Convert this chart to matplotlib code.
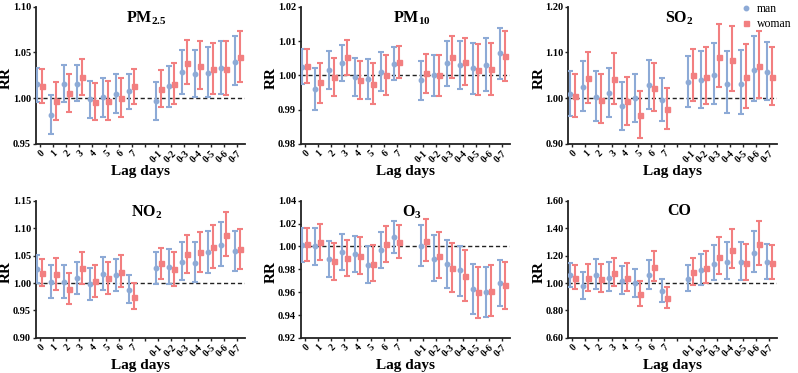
import matplotlib
matplotlib.use("Agg")
import matplotlib.pyplot as plt
import numpy as np

plt.rcParams['font.family'] = ['Liberation Serif', 'DejaVu Serif']
plt.rcParams['mathtext.fontset'] = 'custom'
plt.rcParams['mathtext.rm'] = 'Liberation Serif'
plt.rcParams['mathtext.bf'] = 'Liberation Serif:bold'

lags = ["0", "1", "2", "3", "4", "5", "6", "7",
        "0-1", "0-2", "0-3", "0-4", "0-5", "0-6", "0-7"]
xpos = [0, 1, 2, 3, 4, 5, 6, 7, 9, 10, 11, 12, 13, 14, 15]

# RR, lower, upper for each pollutant
pm25_man = [1.015, 0.982, 1.016, 1.016, 0.999, 1.001, 1.005, 1.008, 0.997, 1.013, 1.029, 1.027, 1.028, 1.033, 1.040]
pm25_man_lo = [0.996, 0.961, 0.996, 0.997, 0.978, 0.980, 0.984, 0.988, 0.976, 0.990, 1.005, 1.001, 1.001, 1.005, 1.014]
pm25_man_hi = [1.033, 1.004, 1.036, 1.036, 1.019, 1.022, 1.027, 1.027, 1.018, 1.035, 1.053, 1.053, 1.056, 1.062, 1.068]
pm25_wom = [1.013, 0.997, 1.006, 1.023, 0.996, 0.997, 1.000, 1.013, 1.010, 1.016, 1.039, 1.035, 1.032, 1.032, 1.045]
pm25_wom_lo = [0.995, 0.976, 0.985, 1.003, 0.976, 0.976, 0.979, 0.994, 0.990, 0.994, 1.015, 1.010, 1.005, 1.004, 1.018]
pm25_wom_hi = [1.032, 1.018, 1.027, 1.043, 1.017, 1.019, 1.022, 1.032, 1.031, 1.038, 1.064, 1.062, 1.060, 1.062, 1.073]

pm10_man = [1.0025, 0.996, 1.0015, 1.0035, 0.9995, 0.999, 1.001, 1.0034, 0.9985, 1.000, 1.0035, 1.003, 1.002, 1.003, 1.0065]
pm10_man_lo = [0.9975, 0.990, 0.996, 0.9983, 0.994, 0.993, 0.9953, 0.9985, 0.9927, 0.994, 0.997, 0.996, 0.9945, 0.9953, 0.999]
pm10_man_hi = [1.0077, 1.002, 1.007, 1.0088, 1.005, 1.0048, 1.0068, 1.0083, 1.0042, 1.006, 1.010, 1.010, 1.0095, 1.0108, 1.0138]
pm10_wom = [1.0027, 0.998, 0.9995, 1.0053, 0.9987, 0.9976, 1.0002, 1.0039, 1.0006, 1.0001, 1.0053, 1.004, 1.0016, 1.0018, 1.0055]
pm10_wom_lo = [0.9977, 0.992, 0.994, 1.0002, 0.9932, 0.9917, 0.9944, 0.9992, 0.995, 0.9941, 0.9992, 0.9972, 0.9942, 0.9942, 0.9983]
pm10_wom_hi = [1.0077, 1.0037, 1.005, 1.0103, 1.0042, 1.0035, 1.006, 1.0085, 1.0062, 1.006, 1.0116, 1.0108, 1.009, 1.0094, 1.0128]

so2_man = [1.009, 1.025, 1.002, 1.011, 0.982, 1.000, 1.028, 0.996, 1.035, 1.040, 1.051, 1.032, 1.032, 1.062, 1.058]
so2_man_lo = [0.962, 0.972, 0.951, 0.959, 0.931, 0.949, 0.976, 0.950, 0.980, 0.979, 0.987, 0.967, 0.966, 0.993, 0.997]
so2_man_hi = [1.059, 1.082, 1.059, 1.067, 1.036, 1.054, 1.084, 1.044, 1.093, 1.104, 1.120, 1.103, 1.105, 1.137, 1.123]
so2_wom = [1.005, 1.044, 0.997, 1.042, 0.993, 0.964, 1.023, 0.976, 1.050, 1.047, 1.091, 1.084, 1.046, 1.071, 1.046]
so2_wom_lo = [0.959, 0.989, 0.945, 0.988, 0.942, 0.914, 0.971, 0.932, 0.995, 0.987, 1.025, 1.016, 0.979, 1.000, 0.985]
so2_wom_hi = [1.054, 1.101, 1.052, 1.099, 1.047, 1.016, 1.078, 1.023, 1.108, 1.111, 1.162, 1.157, 1.118, 1.146, 1.111]

no2_man = [1.025, 1.002, 1.001, 1.009, 0.999, 1.017, 1.014, 0.988, 1.027, 1.030, 1.039, 1.037, 1.056, 1.070, 1.058]
no2_man_lo = [1.000, 0.973, 0.973, 0.980, 0.970, 0.988, 0.985, 0.963, 0.999, 0.998, 1.005, 1.002, 1.018, 1.031, 1.022]
no2_man_hi = [1.051, 1.032, 1.032, 1.039, 1.028, 1.048, 1.044, 1.014, 1.057, 1.062, 1.074, 1.075, 1.095, 1.112, 1.095]
no2_wom = [1.018, 1.016, 0.989, 1.027, 1.003, 1.009, 1.021, 0.975, 1.036, 1.025, 1.052, 1.056, 1.066, 1.088, 1.062]
no2_wom_lo = [0.994, 0.988, 0.961, 0.999, 0.975, 0.980, 0.992, 0.952, 1.008, 0.994, 1.018, 1.020, 1.028, 1.049, 1.026]
no2_wom_hi = [1.044, 1.046, 1.018, 1.056, 1.033, 1.038, 1.051, 1.000, 1.064, 1.057, 1.087, 1.093, 1.105, 1.129, 1.099]

o3_man = [1.001, 1.000, 0.989, 0.995, 0.993, 0.984, 0.997, 1.008, 1.000, 0.989, 0.985, 0.979, 0.963, 0.960, 0.968]
o3_man_lo = [0.986, 0.984, 0.973, 0.979, 0.978, 0.968, 0.981, 0.994, 0.983, 0.970, 0.964, 0.957, 0.941, 0.938, 0.948]
o3_man_hi = [1.016, 1.016, 1.005, 1.011, 1.009, 1.000, 1.013, 1.022, 1.019, 1.010, 1.006, 1.000, 0.985, 0.982, 0.988]
o3_wom = [1.002, 1.004, 0.987, 0.990, 0.992, 0.985, 1.002, 1.004, 1.005, 0.992, 0.981, 0.974, 0.960, 0.961, 0.966]
o3_wom_lo = [0.987, 0.988, 0.971, 0.974, 0.976, 0.970, 0.986, 0.990, 0.987, 0.972, 0.960, 0.952, 0.937, 0.939, 0.945]
o3_wom_hi = [1.016, 1.020, 1.003, 1.006, 1.008, 1.001, 1.018, 1.019, 1.024, 1.013, 1.003, 0.997, 0.982, 0.984, 0.986]

co_man = [1.055, 0.980, 1.060, 1.040, 1.013, 1.000, 1.060, 0.945, 1.032, 1.095, 1.140, 1.155, 1.153, 1.220, 1.153]
co_man_lo = [0.970, 0.887, 0.960, 0.942, 0.918, 0.900, 0.958, 0.865, 0.940, 0.988, 1.020, 1.030, 1.023, 1.080, 1.033]
co_man_hi = [1.145, 1.082, 1.173, 1.150, 1.122, 1.102, 1.170, 1.030, 1.132, 1.215, 1.275, 1.300, 1.300, 1.380, 1.288]
co_wom = [1.040, 1.035, 1.032, 1.075, 1.040, 0.920, 1.120, 0.893, 1.077, 1.112, 1.193, 1.242, 1.143, 1.283, 1.148]
co_wom_lo = [0.955, 0.940, 0.937, 0.975, 0.942, 0.835, 1.015, 0.820, 0.983, 1.003, 1.068, 1.108, 1.020, 1.135, 1.028]
co_wom_hi = [1.128, 1.142, 1.140, 1.183, 1.148, 1.015, 1.237, 0.972, 1.180, 1.233, 1.333, 1.392, 1.288, 1.450, 1.280]

titles = [r"PM$_{\mathbf{2.5}}$", r"PM$_{\mathbf{10}}$", r"SO$_{\mathbf{2}}$",
          r"NO$_{\mathbf{2}}$", r"O$_{\mathbf{3}}$", "CO"]
yticks_list = [[0.95, 1.00, 1.05, 1.10],
               [0.98, 0.99, 1.00, 1.01, 1.02],
               [0.90, 1.00, 1.10, 1.20],
               [0.90, 0.95, 1.00, 1.05, 1.10, 1.15],
               [0.92, 0.94, 0.96, 0.98, 1.00, 1.02, 1.04],
               [0.60, 0.80, 1.00, 1.20, 1.40, 1.60]]
panels = [
    (pm25_man, pm25_man_lo, pm25_man_hi, pm25_wom, pm25_wom_lo, pm25_wom_hi),
    (pm10_man, pm10_man_lo, pm10_man_hi, pm10_wom, pm10_wom_lo, pm10_wom_hi),
    (so2_man, so2_man_lo, so2_man_hi, so2_wom, so2_wom_lo, so2_wom_hi),
    (no2_man, no2_man_lo, no2_man_hi, no2_wom, no2_wom_lo, no2_wom_hi),
    (o3_man, o3_man_lo, o3_man_hi, o3_wom, o3_wom_lo, o3_wom_hi),
    (co_man, co_man_lo, co_man_hi, co_wom, co_wom_lo, co_wom_hi),
]

man_col = "#8daad6"
wom_col = "#f27f80"

fig = plt.figure(figsize=(7.98, 3.73), dpi=100)
lefts = [0.045, 0.377, 0.712]
bottoms = [0.614, 0.094]
x = np.array(xpos, dtype=float)

for i, (data, title, yt) in enumerate(zip(panels, titles, yticks_list)):
    ax = fig.add_axes([lefts[i % 3], bottoms[i // 3], 0.262, 0.368])
    m, mlo, mhi, w, wlo, whi = [np.array(d) for d in data]
    ax.axhline(1.0, color="#222222", ls=(0, (3, 2)), lw=1.0, zorder=1)
    ax.errorbar(x - 0.19, m, yerr=[m - mlo, mhi - m], fmt="o", ms=3.2,
                color=man_col, ecolor=man_col, elinewidth=1.5, capsize=2.5,
                capthick=1.5, label="man", zorder=3)
    ax.errorbar(x + 0.19, w, yerr=[w - wlo, whi - w], fmt="s", ms=3.6,
                color=wom_col, ecolor=wom_col, elinewidth=1.5, capsize=2.5,
                capthick=1.5, label="woman", zorder=3)
    ax.set_xlim(-0.3, 15.6)
    ax.set_ylim(yt[0], yt[-1])
    ax.set_yticks(yt)
    ax.set_yticklabels(["%.2f" % v for v in yt], fontsize=7.5, fontweight="bold")
    ax.set_xticks(list(range(16)))
    ax.set_xticklabels(lags[:8] + [""] + lags[8:], rotation=45, ha="right",
                       rotation_mode="anchor", fontsize=7, fontweight="bold")
    for s in ["top", "right"]:
        ax.spines[s].set_visible(False)
    for s in ["left", "bottom"]:
        ax.spines[s].set_linewidth(1.3)
        ax.spines[s].set_color("#222222")
    ax.tick_params(axis="both", direction="out", length=2.5, width=1.0,
                   color="#222222", pad=1.0)
    ax.set_ylabel("RR", fontsize=11, fontweight="bold", va="center")
    ax.yaxis.set_label_coords(-0.14, 0.48)
    ax.set_xlabel("Lag days", fontsize=11, fontweight="bold", va="center")
    ax.xaxis.set_label_coords(0.5, -0.2)
    ax.text(0.53, 0.98, title, transform=ax.transAxes, ha="center", va="top",
            fontsize=11.5, fontweight="bold")
    if i == 0:
        handles, labels = ax.get_legend_handles_labels()

handles = [h[0] for h in handles]
fig.legend(handles, labels, loc="upper right", bbox_to_anchor=(1.005, 1.02),
           frameon=False, fontsize=8.5, handletextpad=0.3, handlelength=1.2,
           labelspacing=0.25)

fig.savefig("out.png", dpi=100)
